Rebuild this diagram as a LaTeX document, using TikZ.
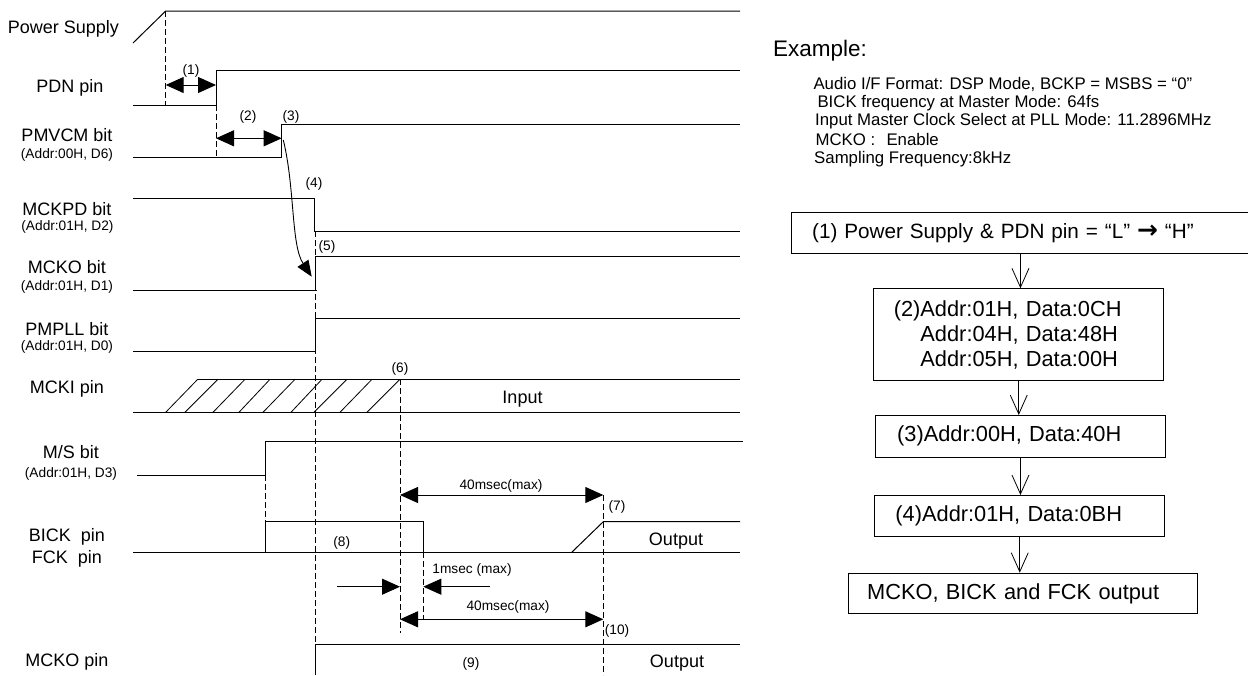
\documentclass[tikz,border=0pt]{standalone}
\usepackage{fontspec}
\setmainfont{Liberation Sans}
\newfontfamily\arrowfont{DejaVu Sans}
\usetikzlibrary{arrows.meta}
\newcommand\mainfs{\fontsize{18}{21}\selectfont}
\newcommand\subfs{\fontsize{13.7}{16}\selectfont}
\newcommand\exfs{\fontsize{16.8}{19}\selectfont}
\newcommand\exbigfs{\fontsize{22.5}{26}\selectfont}
\newcommand\flowfs{\fontsize{21.8}{25}\selectfont}
\begin{document}
\begin{tikzpicture}[x=1pt,y=-1pt,
  sig/.style={line width=1pt},
  guide/.style={line width=0.9pt, dash pattern=on 6pt off 3pt},
  hatch/.style={line width=0.8pt},
  tarrow/.style={line width=1pt, {Triangle[length=18pt,width=16pt]}-{Triangle[length=18pt,width=16pt]}},
  sarrow/.style={line width=1pt, -{Triangle[length=18pt,width=16pt]}},
  carrow/.style={line width=0.9pt, -{Triangle[length=16pt,width=13pt]}},
  lbl/.style={anchor=base, inner sep=0pt, font=\mainfs},
  sublbl/.style={anchor=base, inner sep=0pt, font=\subfs},
  num/.style={inner sep=0pt, font=\subfs},
  exline/.style={anchor=base west, inner sep=0pt, font=\exfs},
  fbox/.style={draw, line width=0.9pt, anchor=north west, align=left, inner ysep=0pt, font=\flowfs},
  farrow/.style={line width=0.8pt, -{Straight Barb[length=19pt,width=17pt]}}
]
\useasboundingbox (0,0) rectangle (1248,675);

% ---------- left labels ----------
\node[lbl] (lps) at (63.5,33) {Power Supply};
\node[lbl] (lpdn) at (70,92) {PDN pin};
\node[lbl] (lpmv) at (67,141.7) {PMVCM bit};
\node[sublbl] (lpmva) at (67,158) {(Addr:00H, D6)};
\node[lbl] (lmckpd) at (67,215) {MCKPD bit};
\node[sublbl] (lmckpda) at (67.5,230.5) {(Addr:01H, D2)};
\node[lbl] (lmcko) at (67,273) {MCKO bit};
\node[sublbl] (lmckoa) at (67,290) {(Addr:01H, D1)};
\node[lbl] (lpll) at (67,335) {PMPLL bit};
\node[sublbl] (lplla) at (67,350.5) {(Addr:01H, D0)};
\node[lbl] (lmcki) at (67,393) {MCKI pin};
\node[lbl] (lms) at (71,458) {M/S bit};
\node[sublbl] (lmsa) at (71,477) {(Addr:01H, D3)};
\node[lbl] (lbick) at (67,541.7) {BICK\ \ pin};
\node[lbl] (lfck) at (67,563) {FCK\ \ pin};
\node[lbl] (lmckop) at (67,666.7) {MCKO pin};

% ---------- guides ----------
\draw[guide] (165.7,11) -- (165.7,105);
\draw[guide] (216,105) -- (216,157);
\draw[guide] (315,231) -- (315,675);
\draw[guide] (400,379.3) -- (400,633);
\draw[guide] (265,475) -- (265,552.3);
\draw[guide] (423.3,552.3) -- (423.3,620);
\draw[guide] (603.3,495) -- (603.3,675);

% ---------- signals ----------
\draw[sig] (133,43) -- (165.7,11) -- (740,11);
\draw[sig] (133,105) -- (216,105) -- (216,70) -- (740,70);
\draw[sig] (133,157) -- (281.7,157) -- (281.7,124.3) -- (740,124.3);
\draw[sig] (133,198.3) -- (314.7,198.3) -- (314.7,231) -- (740,231);
\draw[sig] (133,290.7) -- (316.7,290.7);
\draw[sig] (315,290.7) -- (315,256) -- (740,256);
\draw[sig] (133,351.7) -- (315,351.7) -- (315,318.7) -- (740,318.7);
\draw[sig] (197.7,379.3) -- (740,379.3);
\draw[sig] (133,412.3) -- (740,412.3);
\foreach \b/\t in {165.7/197.7, 185/218, 213/245, 239/270, 263/295, 291/322, 314/347, 340/372, 367/400}
  \draw[hatch] (\b,412.3) -- (\t,379.3);
\draw[sig] (137,475) -- (265,475) -- (265,441.7) -- (743,441.7);
\draw[sig] (133,552.3) -- (740,552.3);
\draw[sig] (265,552.3) -- (265,521.7) -- (423.3,521.7) -- (423.3,552.3);
\draw[sig] (571.7,552.3) -- (603.3,521.7) -- (740,521.7);
\draw[sig] (315,675) -- (315,644.3) -- (740,644.3);

% ---------- timing arrows ----------
\draw[tarrow] (165.7,85) -- (216,85);
\draw[tarrow] (216,138.3) -- (281.7,138.3);
\draw[carrow] (283.3,140) .. controls (295,188) and (291,245) .. (311.7,276.7);
\draw[tarrow] (400,495) -- (603.3,495);
\draw[sarrow] (337,586.7) -- (400,586.7);
\draw[sarrow] (490,586.7) -- (423.3,586.7);
\draw[tarrow] (400,619.3) -- (603.3,619.3);

% ---------- timing labels ----------
\node[num] (n1) at (191,71) {(1)};
\node[num] (n2) at (248,117) {(2)};
\node[num] (n3) at (291,117) {(3)};
\node[num] (n4) at (314,184) {(4)};
\node[num] (n5) at (327,247) {(5)};
\node[num] (n6) at (400,369) {(6)};
\node[num] (n7) at (617,507) {(7)};
\node[num] (n8) at (341.7,542.5) {(8)};
\node[num] (n9) at (471,663.5) {(9)};
\node[num] (n10) at (617,631) {(10)};
\node[num] (t40a) at (501,486) {40msec(max)};
\node[num] (t1) at (472,570) {1msec (max)};
\node[num] (t40b) at (508,607) {40msec(max)};
\node[lbl] (tin) at (522.5,403) {Input};
\node[lbl] (tout1) at (676,545) {Output};
\node[lbl] (tout2) at (677,667) {Output};

% ---------- example text ----------
\node[anchor=base west, inner sep=0pt, font=\exbigfs] (ex) at (773,56.7) {Example:};
\node[exline] (ex1) at (813.3,89.3) {Audio I/F Format: DSP Mode, BCKP = MSBS = “0”};
\node[exline] (ex2) at (817.3,107.3) {BICK frequency at Master Mode: 64fs};
\node[exline] (ex3) at (815,125.7) {Input Master Clock Select at PLL Mode: 11.2896MHz};
\node[exline] (ex4) at (815.3,145) {MCKO :\hspace{11.3pt}Enable};
\node[exline] (ex5) at (814,163.3) {Sampling Frequency:8kHz};

% ---------- flowchart ----------
\node[fbox, font=\fontsize{20.7}{24}\selectfont, inner xsep=20.7pt, text width=416.6pt, minimum height=41pt] (b1) at (791,211.7)
  {(1) Power Supply \& PDN pin = “L” {\arrowfont\bfseries\fontsize{25}{25}\selectfont →} “H”};
\node[fbox, inner xsep=20pt, text width=250pt, minimum height=91.7pt] (b2) at (873.3,288.3)
  {(2)Addr:01H, Data:0CH\\\hspace*{26.7pt}Addr:04H, Data:48H\\\hspace*{26.7pt}Addr:05H, Data:00H};
\node[fbox, inner xsep=21.7pt, text width=246.6pt, minimum height=41.7pt] (b3) at (875,415)
  {(3)Addr:00H, Data:40H};
\node[fbox, inner xsep=20.7pt, text width=248.6pt, minimum height=41pt] (b4) at (874.3,495)
  {(4)Addr:01H, Data:0BH};
\node[fbox, inner xsep=18.4pt, text width=312.2pt, minimum height=40.6pt] (b5) at (848.3,572.7)
  {MCKO, BICK and FCK output};

\draw[farrow] (b1.south) -- (b1.south |- b2.north);
\draw[farrow] (b2.south) -- (b2.south |- b3.north);
\draw[farrow] (b3.south) -- (b3.south |- b4.north);
\draw[farrow] (b4.south) -- (b4.south |- b5.north);
\end{tikzpicture}
\end{document}
